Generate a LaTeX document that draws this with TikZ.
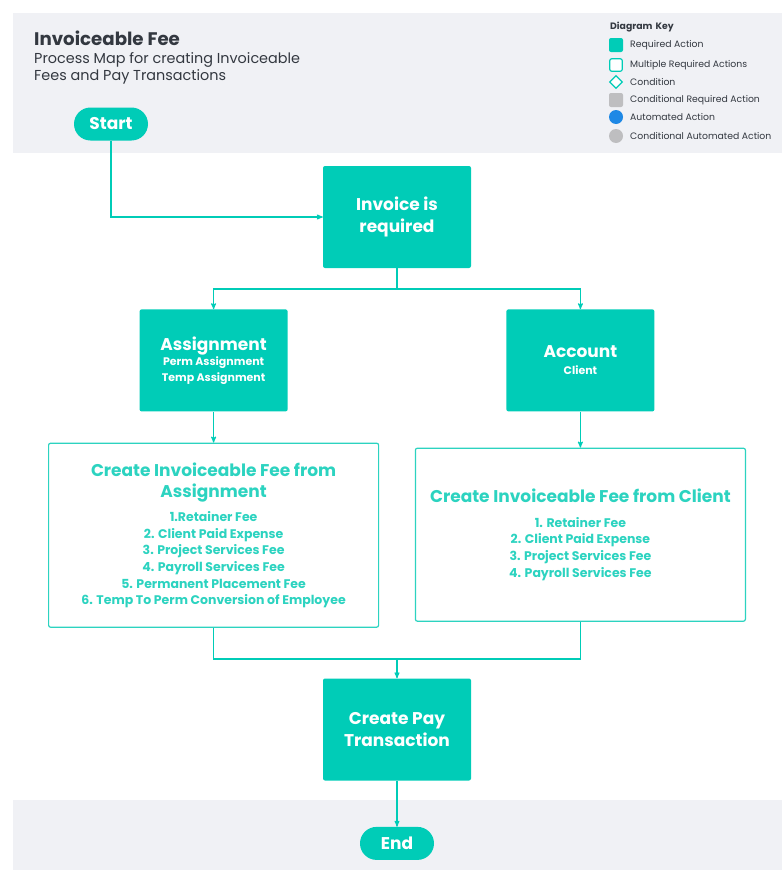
\documentclass[tikz,border=0pt]{standalone}
\usepackage{fontspec}
\setmainfont{Poppins}
\usetikzlibrary{arrows,positioning,shapes.geometric}
\definecolor{teal1}{RGB}{0,204,183}
\definecolor{teal2}{RGB}{44,211,192}
\definecolor{bandgray}{RGB}{240,241,245}
\definecolor{titlegray}{RGB}{51,56,64}
\definecolor{keygray}{RGB}{190,190,192}
\definecolor{keyblue}{RGB}{30,136,229}
\tikzset{
    %Define standard arrow tip
    >=stealth',
    %Define style for boxes
    req/.style={
           rectangle,
           rounded corners=2pt,
           fill=teal1,
           text=white,
           minimum width=148pt,
           minimum height=102pt,
           text width=140pt,
           align=flush center,
           font=\bfseries\fontsize{17}{22}\selectfont},
    multi/.style={
           rectangle,
           rounded corners=2pt,
           draw=teal2, line width=1.2pt,
           fill=white,
           text=teal2,
           minimum width=330pt,
           text width=320pt,
           align=flush center,
           font=\bfseries},
    term/.style={
           rectangle,
           rounded corners=16.5pt,
           fill=teal1,
           text=white,
           minimum width=74pt,
           minimum height=33pt,
           font=\bfseries\fontsize{17}{20}\selectfont},
    keybox/.style={
           rectangle,
           rounded corners=2pt,
           minimum width=14pt,
           minimum height=14pt},
    keytext/.style={
           anchor=west,
           inner sep=0pt,
           text=titlegray,
           font=\fontsize{9.3}{11}\selectfont},
    % Define arrow style
    pil/.style={
           ->,
           draw=teal1,
           line width=1.1pt},
    line/.style={
           draw=teal1,
           line width=1.1pt}
}

\begin{document}
\begin{tikzpicture}[x=1pt,y=-1pt,node distance=1cm]
\useasboundingbox (0,0) rectangle (782,870);
% bands
\fill[bandgray] (13,13) rectangle (782,153);
\fill[bandgray] (13,800) rectangle (782,870);
% heading
\node[anchor=base west, inner sep=0pt, text=titlegray, font=\bfseries\fontsize{18.2}{22}\selectfont] (title) at (34,45) {Invoiceable Fee};
\node[anchor=base west, inner sep=0pt, text=titlegray, font=\fontsize{14.4}{18}\selectfont] (sub1) at (34,63) {Process Map for creating Invoiceable};
\node[anchor=base west, inner sep=0pt, text=titlegray, font=\fontsize{14.4}{18}\selectfont] (sub2) at (34,80) {Fees and Pay Transactions};
% diagram key
\node[keytext, font=\bfseries\fontsize{9.3}{11}\selectfont] (key) at (610,27) {Diagram\,\,Key};
\node[keybox, fill=teal1] (k1) at (616,45) {};
\node[keybox, draw=teal1, line width=1.2pt, fill=white, minimum width=12.5pt, minimum height=12.5pt] (k2) at (616,65) {};
\node[diamond, draw=teal1, line width=1.2pt, fill=white, inner sep=0pt, minimum width=13pt, minimum height=13pt] (k3) at (616,82) {};
\node[keybox, fill=keygray] (k4) at (616,100) {};
\node[circle, fill=keyblue, inner sep=0pt, minimum size=14pt] (k5) at (616,117) {};
\node[circle, fill=keygray, inner sep=0pt, minimum size=14pt] (k6) at (616,136) {};
\node[keytext] at (630,45) {Required Action};
\node[keytext] at (630,65) {Multiple Required Actions};
\node[keytext] at (630,82) {Condition};
\node[keytext] at (630,100) {Conditional Required Action};
\node[keytext] at (630,117) {Automated Action};
\node[keytext] at (630,136) {Conditional Automated Action};
% flow
\node[term] (start) at (111,124) {Start};
\node[req] (inv) at (397,217) {Invoice is\\required};
\node[req, below left=41pt and 35pt of inv] (asg) {{\fontsize{17}{22}\selectfont Assignment\par}{\fontsize{11}{15.5}\selectfont Perm Assignment\\Temp Assignment\par}};
\node[req, below right=41pt and 35pt of inv] (acc) {{\fontsize{17}{22}\selectfont Account\par}{\fontsize{11}{17}\selectfont Client\par}};
\node[multi, below=31pt of asg, minimum height=184pt] (feeA) {{\fontsize{17}{21}\selectfont Create Invoiceable Fee from\\Assignment\par}\vspace{8pt}{\fontsize{12.5}{16.6}\selectfont 1.Retainer Fee\\2. Client Paid Expense\\3. Project Services Fee\\4. Payroll Services Fee\\5. Permanent Placement Fee\\6. Temp To Perm Conversion of Employee\par}};
\node[multi, below=36pt of acc, minimum height=173pt] (feeC) {{\fontsize{17}{21}\selectfont Create Invoiceable Fee from Client\par}\vspace{8pt}{\fontsize{12.5}{16.6}\selectfont 1. Retainer Fee\\2. Client Paid Expense\\3. Project Services Fee\\4. Payroll Services Fee\par}};
\node[req] (pay) at (397,729.5) {Create Pay\\Transaction};
\node[term, below=46pt of pay] (end) {End};
\coordinate (split) at (397,289);
\coordinate (join) at (397,659);
% connectors
\draw[pil] (start) |- (inv);
\draw[line] (inv) -- (split);
\draw[pil] (split) -| (asg);
\draw[pil] (split) -| (acc);
\draw[pil] (asg) -- (feeA);
\draw[pil] (acc) -- (feeC);
\draw[line] (feeA) |- (join);
\draw[line] (feeC) |- (join);
\draw[pil] (join) -- (pay);
\draw[pil] (pay) -- (end);
\end{tikzpicture}
\end{document}
